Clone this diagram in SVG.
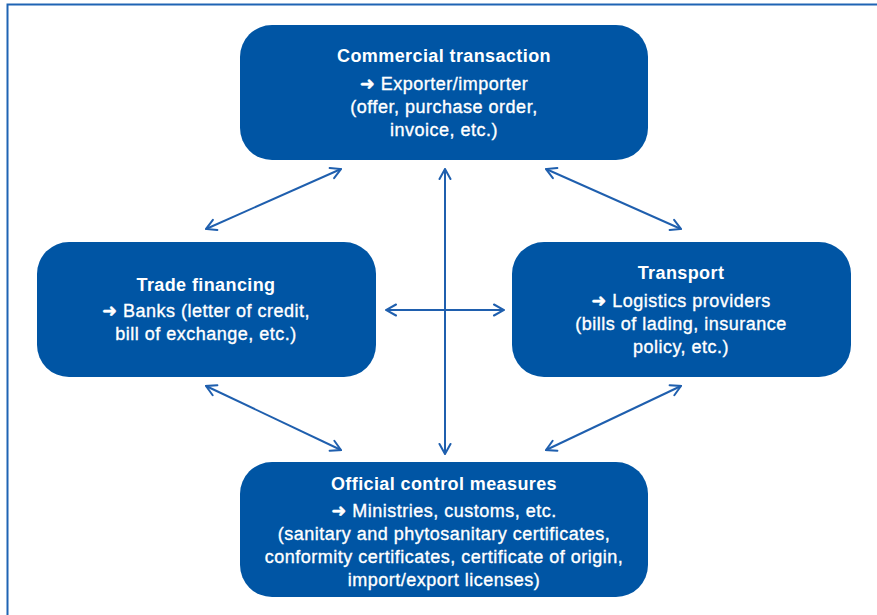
<svg xmlns="http://www.w3.org/2000/svg" width="877" height="615" viewBox="0 0 877 615">
<defs>
<style>
.box{fill:#0055a4;}
.t{font-family:"Liberation Sans",Arial,"DejaVu Sans",sans-serif;font-size:18px;letter-spacing:0.5px;fill:#ffffff;stroke:#ffffff;stroke-width:0.35px;text-anchor:middle;}
.b{font-weight:bold;letter-spacing:0.4px;stroke-width:0;}
.a{font-weight:bold;}
.c{stroke:#1f5fae;stroke-width:2;fill:none;marker-start:url(#ah);marker-end:url(#ah);}
</style>
<marker id="ah" viewBox="0 0 14 14" refX="13" refY="7" markerWidth="14" markerHeight="14" markerUnits="userSpaceOnUse" orient="auto-start-reverse">
<path d="M3,1.5 L13,7 L3,12.5" fill="none" stroke="#1f5fae" stroke-width="2" stroke-linecap="round"/>
</marker>
</defs>
<rect width="877" height="615" fill="#ffffff"/>
<path d="M7.5,615 V4.5 H877" fill="none" stroke="#1f64b4" stroke-width="2"/>
<g id="connectors">
<line class="c" x1="206" y1="229" x2="341" y2="169"/>
<line class="c" x1="546" y1="169" x2="681" y2="229"/>
<line class="c" x1="445" y1="169" x2="445" y2="454"/>
<line class="c" x1="386" y1="310" x2="504" y2="310"/>
<line class="c" x1="206" y1="386" x2="341" y2="450"/>
<line class="c" x1="546" y1="450" x2="681" y2="386"/>
</g>
<g id="commercial">
<rect class="box" x="240" y="25" width="408" height="135" rx="32"/>
<text class="t b" x="444" y="62">Commercial transaction</text>
<text class="t" x="444" y="90"><tspan class="a">➜</tspan> Exporter/importer</text>
<text class="t" x="444" y="113">(offer, purchase order,</text>
<text class="t" x="444" y="136">invoice, etc.)</text>
</g>
<g id="financing">
<rect class="box" x="37" y="242" width="339" height="135" rx="32"/>
<text class="t b" x="206" y="291">Trade financing</text>
<text class="t" x="206" y="317"><tspan class="a">➜</tspan> Banks (letter of credit,</text>
<text class="t" x="206" y="340">bill of exchange, etc.)</text>
</g>
<g id="transport">
<rect class="box" x="512" y="242" width="339" height="135" rx="32"/>
<text class="t b" x="681" y="279">Transport</text>
<text class="t" x="681" y="307"><tspan class="a">➜</tspan> Logistics providers</text>
<text class="t" x="681" y="330">(bills of lading, insurance</text>
<text class="t" x="681" y="353">policy, etc.)</text>
</g>
<g id="official">
<rect class="box" x="240" y="462" width="408" height="135" rx="32"/>
<text class="t b" x="444" y="490">Official control measures</text>
<text class="t" x="444" y="517"><tspan class="a">➜</tspan> Ministries, customs, etc.</text>
<text class="t" x="444" y="540">(sanitary and phytosanitary certificates,</text>
<text class="t" x="444" y="563">conformity certificates, certificate of origin,</text>
<text class="t" x="444" y="586">import/export licenses)</text>
</g>
</svg>
